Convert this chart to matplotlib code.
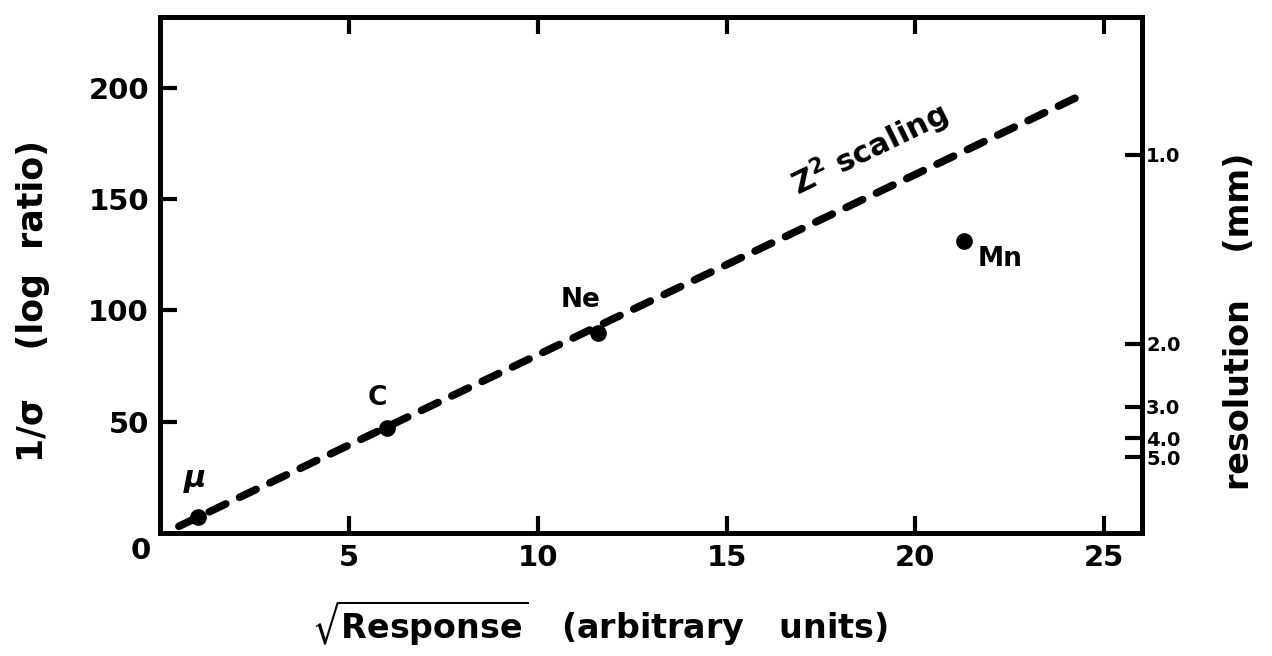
import matplotlib.pyplot as plt

# data points
elements = ["$\\mu$", "C", "Ne", "Mn"]
sqrt_response = [1.0, 6.0, 11.6, 21.3]
inv_sigma = [7, 47, 90, 131]

# Z^2 scaling line (endpoints)
line_x = [0.5, 24.3]
line_y = [3, 196]

# right axis: resolution (mm) = 170 / (1/sigma)
res_ticks = [1.0, 2.0, 3.0, 4.0, 5.0]
res_scale = 170.0

plt.rcParams['font.family'] = ['DejaVu Sans']
plt.rcParams['font.weight'] = 'bold'
plt.rcParams['axes.labelweight'] = 'bold'

fig = plt.figure(figsize=(12.72, 6.56), dpi=100)
ax = fig.add_axes([0.1258, 0.1875, 0.772, 0.787])

ax.plot(line_x, line_y, color="black", lw=5.5, dashes=(2.4, 2.0), dash_capstyle="round")
ax.plot(sqrt_response, inv_sigma, "o", color="black", ms=11)

# labels next to the points
ax.text(sqrt_response[0] - 0.4, inv_sigma[0] + 10, elements[0], fontsize=22, ha="left", va="bottom")
ax.text(sqrt_response[1] - 0.5, inv_sigma[1] + 8, elements[1], fontsize=19, ha="left", va="bottom")
ax.text(sqrt_response[2] - 1.0, inv_sigma[2] + 9, elements[2], fontsize=19, ha="left", va="bottom")
ax.text(sqrt_response[3] + 0.35, inv_sigma[3] - 2, elements[3], fontsize=19, ha="left", va="top")
ax.text(17.0, 148, "$\\mathbf{Z^2}$ scaling", fontsize=22, rotation=26, ha="left", va="bottom",
        rotation_mode="anchor")

ax.set_xlim(0, 26)
ax.set_ylim(0, 232)
ax.set_xticks([5, 10, 15, 20, 25])
ax.set_yticks([50, 100, 150, 200])
ax.tick_params(direction="in", length=12, width=3, labelsize=21, top=True, pad=8)
for s in ax.spines.values():
    s.set_linewidth(3.5)

ax.text(-0.25, -2, "0", fontsize=21, ha="right", va="top")

ax.set_xlabel(r"$\sqrt{\mathbf{Response}}$   (arbitrary   units)", fontsize=24)
ax.xaxis.set_label_coords(0.448, -0.128)
ax.set_ylabel("1/σ    (log  ratio)", fontsize=25)
ax.yaxis.set_label_coords(-0.112, 0.45)

ax2 = ax.twinx()
ax2.set_ylim(ax.get_ylim())
ax2.set_yticks([res_scale / r for r in res_ticks])
ax2.set_yticklabels([f"{r:.1f}" for r in res_ticks])
ax2.tick_params(direction="in", length=12, width=3, labelsize=14, pad=3)
for s in ax2.spines.values():
    s.set_linewidth(3.5)
ax2.set_ylabel("resolution    (mm)", fontsize=24, rotation=90)
ax2.yaxis.set_label_coords(1.082, 0.41)

fig.savefig("out.png", dpi=100)
